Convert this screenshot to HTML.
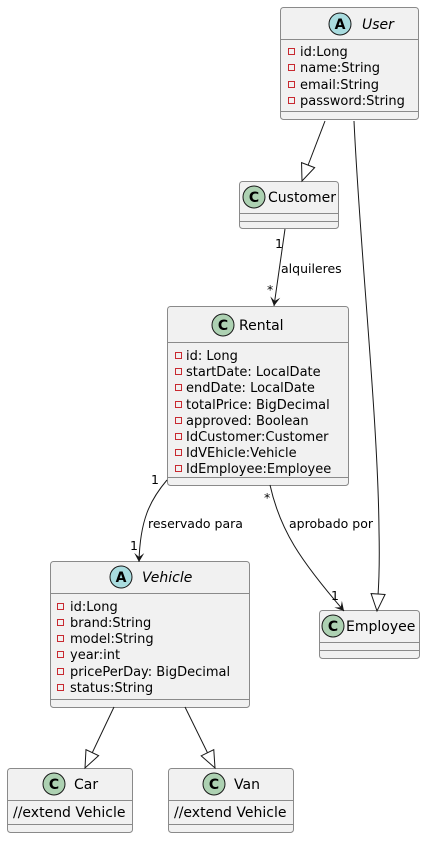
<!DOCTYPE html>
<html><head><style>body{margin:0;background:#fff}text{font-family:"DejaVu Sans","Liberation Sans",sans-serif;fill:#000}</style></head><body>
<svg width="425" height="838" viewBox="0 0 425 838" xmlns="http://www.w3.org/2000/svg">
<defs>
<marker id="ar" markerWidth="12" markerHeight="12" refX="10" refY="6" orient="auto" markerUnits="userSpaceOnUse"><path d="M1,1 L10,6 L1,11 L5,6 Z" fill="#181818"/></marker>
<marker id="tri" markerWidth="20" markerHeight="20" refX="18" refY="10" orient="auto" markerUnits="userSpaceOnUse"><path d="M1,3 L18,10 L1,17 Z" fill="#fff" stroke="#181818"/></marker>
</defs>
<g fill="#F1F1F1" stroke="#8a8a8a" stroke-width="1">
<rect x="280.5" y="7.5" width="138" height="112" rx="3"/><line x1="280.5" y1="39.5" x2="418.5" y2="39.5"/><line x1="280.5" y1="111.5" x2="418.5" y2="111.5"/>
<rect x="239.5" y="181.5" width="99" height="47" rx="3"/><line x1="239.5" y1="213.5" x2="338.5" y2="213.5"/><line x1="239.5" y1="221.5" x2="338.5" y2="221.5"/>
<rect x="167.5" y="306.5" width="181" height="179" rx="3"/><line x1="167.5" y1="342.5" x2="348.5" y2="342.5"/><line x1="167.5" y1="477.5" x2="348.5" y2="477.5"/>
<rect x="50.5" y="561.5" width="199" height="146" rx="3"/><line x1="50.5" y1="593.5" x2="249.5" y2="593.5"/><line x1="50.5" y1="699.5" x2="249.5" y2="699.5"/>
<rect x="319.5" y="610.5" width="100" height="48" rx="3"/><line x1="319.5" y1="642.5" x2="419.5" y2="642.5"/><line x1="319.5" y1="650.5" x2="419.5" y2="650.5"/>
<rect x="7.5" y="768.5" width="125" height="64" rx="3"/><line x1="7.5" y1="800.5" x2="132.5" y2="800.5"/><line x1="7.5" y1="824.5" x2="132.5" y2="824.5"/>
<rect x="168.5" y="768.5" width="125" height="64" rx="3"/><line x1="168.5" y1="800.5" x2="293.5" y2="800.5"/><line x1="168.5" y1="824.5" x2="293.5" y2="824.5"/>
</g>
<g stroke="#181818" stroke-width="1">
<circle cx="340" cy="24" r="11" fill="#A9DCDF"/><circle cx="254" cy="197" r="11" fill="#ADD1B2"/><circle cx="223" cy="325" r="11" fill="#ADD1B2"/>
<circle cx="121" cy="577" r="11" fill="#A9DCDF"/><circle cx="333" cy="626" r="11" fill="#ADD1B2"/><circle cx="54" cy="784" r="11" fill="#ADD1B2"/><circle cx="214" cy="784" r="11" fill="#ADD1B2"/>
</g>
<g font-weight="bold" font-size="14" text-anchor="middle"><text x="340" y="29">A</text><text x="254" y="202">C</text><text x="223" y="330">C</text><text x="121" y="582">A</text><text x="333" y="631">C</text><text x="54" y="789">C</text><text x="214" y="789">C</text></g>
<g font-size="14">
<text x="362" y="29" font-style="italic">User</text><text x="268" y="202">Customer</text><text x="239" y="330">Rental</text>
<text x="142" y="582" font-style="italic">Vehicle</text><text x="346" y="631">Employee</text><text x="74" y="789">Car</text><text x="234" y="789">Van</text>
<text x="13" y="817">//extend Vehicle</text><text x="174" y="817">//extend Vehicle</text>
</g>
<g fill="none" stroke="#C82930" stroke-width="1">
<rect x="288.5" y="48.5" width="6" height="6"/><rect x="288.5" y="64.5" width="6" height="6"/><rect x="288.5" y="81.5" width="6" height="6"/><rect x="288.5" y="97.5" width="6" height="6"/>
<rect x="175.5" y="352.5" width="6" height="6"/><rect x="175.5" y="368.5" width="6" height="6"/><rect x="175.5" y="384.5" width="6" height="6"/><rect x="175.5" y="401.5" width="6" height="6"/><rect x="175.5" y="417.5" width="6" height="6"/><rect x="175.5" y="433.5" width="6" height="6"/><rect x="175.5" y="449.5" width="6" height="6"/><rect x="175.5" y="465.5" width="6" height="6"/>
<rect x="57.5" y="603.5" width="6" height="6"/><rect x="57.5" y="619.5" width="6" height="6"/><rect x="57.5" y="635.5" width="6" height="6"/><rect x="57.5" y="651.5" width="6" height="6"/><rect x="57.5" y="668.5" width="6" height="6"/><rect x="57.5" y="684.5" width="6" height="6"/>
</g>
<g font-size="13">
<text x="300" y="56">id:Long</text><text x="300" y="72">name:String</text><text x="300" y="89">email:String</text><text x="300" y="105">password:String</text>
<text x="186" y="360">id: Long</text><text x="186" y="376">startDate: LocalDate</text><text x="186" y="392">endDate: LocalDate</text><text x="186" y="409">totalPrice: BigDecimal</text><text x="186" y="425">approved: Boolean</text><text x="186" y="441">IdCustomer:Customer</text><text x="186" y="457">IdVEhicle:Vehicle</text><text x="186" y="473">IdEmployee:Employee</text>
<text x="70" y="611">id:Long</text><text x="70" y="627">brand:String</text><text x="70" y="643">model:String</text><text x="70" y="659">year:int</text><text x="70" y="676">pricePerDay: BigDecimal</text><text x="70" y="692">status:String</text>
</g>
<g fill="none" stroke="#181818" stroke-width="1">
<path d="M325,121 L302,181" marker-end="url(#tri)"/>
<path d="M354,121 C360,250 378,420 379,530 C380,575 378,595 377,611" marker-end="url(#tri)"/>
<path d="M285,229 L274,306" marker-end="url(#ar)"/>
<path d="M167,480 C150,500 140,520 139,562" marker-end="url(#ar)"/>
<path d="M270,485 C280,530 300,560 344,611" marker-end="url(#ar)"/>
<path d="M114,707 L85,768" marker-end="url(#tri)"/>
<path d="M185,707 L215,768" marker-end="url(#tri)"/>
</g>
<g font-size="12.5">
<text x="275" y="248">1</text><text x="281" y="273">alquileres</text><text x="267" y="294">*</text>
<text x="151" y="484">1</text><text x="148" y="528">reservado para</text><text x="130" y="550">1</text>
<text x="264" y="502">*</text><text x="289" y="528">aprobado por</text><text x="331" y="600">1</text>
</g>
</svg>
</body></html>
